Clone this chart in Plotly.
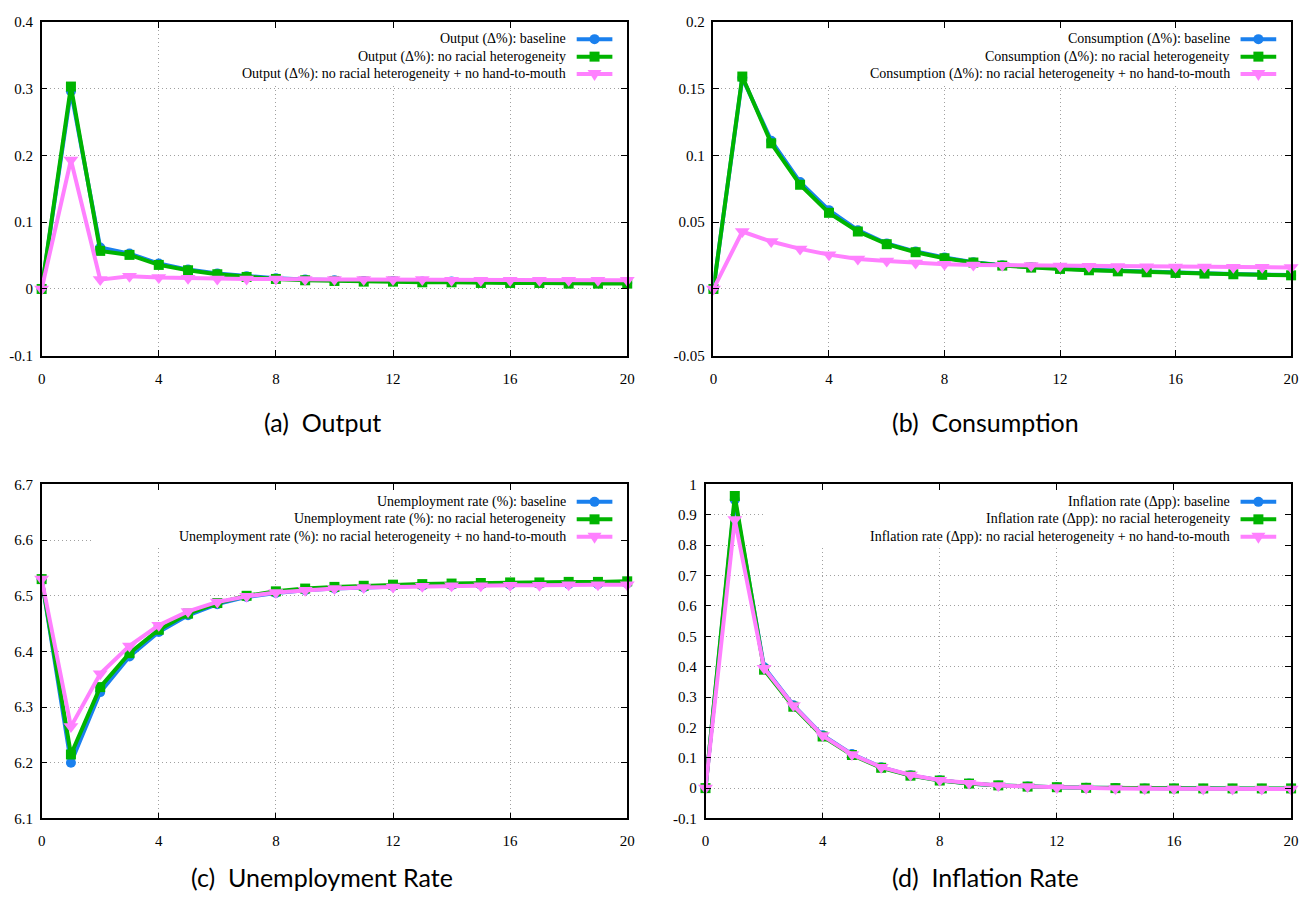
import plotly.graph_objects as go

# ---------------- data ----------------
periods = list(range(21))

output_baseline = [0, 0.296, 0.062, 0.053, 0.038, 0.029, 0.023, 0.019, 0.016, 0.014, 0.013,
                   0.012, 0.012, 0.011, 0.011, 0.010, 0.010, 0.010, 0.009, 0.009, 0.009]
output_no_race = [0, 0.303, 0.057, 0.051, 0.036, 0.028, 0.022, 0.018, 0.015, 0.013, 0.012,
                  0.011, 0.011, 0.010, 0.010, 0.009, 0.009, 0.009, 0.008, 0.008, 0.008]
output_no_race_no_htm = [0, 0.193, 0.014, 0.019, 0.017, 0.016, 0.015, 0.015, 0.015, 0.014, 0.014,
                         0.014, 0.014, 0.014, 0.013, 0.013, 0.013, 0.013, 0.013, 0.013, 0.013]

cons_baseline = [0, 0.158, 0.111, 0.080, 0.059, 0.044, 0.034, 0.028, 0.0235, 0.020, 0.0178,
                 0.0163, 0.0153, 0.0143, 0.0135, 0.0128, 0.0122, 0.0117, 0.0112, 0.0108, 0.0104]
cons_no_race = [0, 0.159, 0.109, 0.078, 0.057, 0.043, 0.0335, 0.0275, 0.023, 0.0198, 0.0175,
                0.016, 0.015, 0.014, 0.0132, 0.0125, 0.012, 0.0115, 0.011, 0.0106, 0.0102]
cons_no_race_no_htm = [0, 0.043, 0.0355, 0.030, 0.0257, 0.0225, 0.021, 0.0195, 0.0185, 0.018, 0.0178,
                       0.0175, 0.0172, 0.017, 0.0168, 0.0166, 0.0165, 0.0164, 0.0163, 0.0162, 0.0161]

unemp_baseline = [6.53, 6.200, 6.327, 6.391, 6.435, 6.465, 6.485, 6.498, 6.505, 6.510, 6.513,
                  6.515, 6.517, 6.518, 6.519, 6.520, 6.520, 6.521, 6.521, 6.521, 6.522]
unemp_no_race = [6.53, 6.215, 6.336, 6.397, 6.439, 6.468, 6.487, 6.500, 6.508, 6.513, 6.516,
                 6.518, 6.520, 6.521, 6.522, 6.523, 6.524, 6.524, 6.525, 6.525, 6.526]
unemp_no_race_no_htm = [6.53, 6.265, 6.360, 6.410, 6.447, 6.472, 6.489, 6.499, 6.506, 6.510, 6.513,
                        6.515, 6.516, 6.517, 6.518, 6.518, 6.519, 6.519, 6.520, 6.520, 6.520]

infl_baseline = [0, 0.950, 0.398, 0.273, 0.174, 0.112, 0.069, 0.042, 0.026, 0.015, 0.009,
                 0.005, 0.003, 0.001, 0.0, -0.001, -0.001, -0.002, -0.002, -0.002, -0.002]
infl_no_race = [0, 0.962, 0.390, 0.268, 0.170, 0.109, 0.067, 0.041, 0.025, 0.015, 0.009,
                0.005, 0.003, 0.001, 0.0, -0.001, -0.001, -0.001, -0.001, -0.001, -0.001]
infl_no_race_no_htm = [0, 0.885, 0.395, 0.272, 0.173, 0.111, 0.069, 0.043, 0.026, 0.016, 0.009,
                       0.005, 0.002, 0.0, -0.001, -0.002, -0.002, -0.003, -0.003, -0.003, -0.003]

scenario_suffixes = ["baseline", "no racial heterogeneity",
                     "no racial heterogeneity + no hand-to-mouth"]
variable_names = ["Output (Δ%)", "Consumption (Δ%)", "Unemployment rate (%)", "Inflation rate (Δpp)"]
captions = ["(a)\u00a0\u00a0Output", "(b)\u00a0\u00a0Consumption",
            "(c)\u00a0\u00a0Unemployment Rate", "(d)\u00a0\u00a0Inflation Rate"]

x_tick_vals = [0, 4, 8, 12, 16, 20]
x_tick_text = ["0", "4", "8", "12", "16", "20"]

y_tick_vals_a = [-0.1, 0, 0.1, 0.2, 0.3, 0.4]
y_tick_text_a = ["-0.1", "0", "0.1", "0.2", "0.3", "0.4"]
y_tick_vals_b = [-0.05, 0, 0.05, 0.1, 0.15, 0.2]
y_tick_text_b = ["-0.05", "0", "0.05", "0.1", "0.15", "0.2"]
y_tick_vals_c = [6.1, 6.2, 6.3, 6.4, 6.5, 6.6, 6.7]
y_tick_text_c = ["6.1", "6.2", "6.3", "6.4", "6.5", "6.6", "6.7"]
y_tick_vals_d = [-0.1, 0, 0.1, 0.2, 0.3, 0.4, 0.5, 0.6, 0.7, 0.8, 0.9, 1]
y_tick_text_d = ["-0.1", "0", "0.1", "0.2", "0.3", "0.4", "0.5", "0.6", "0.7", "0.8", "0.9", "1"]

# ---------------- style / layout ----------------
W, H = 1309, 909
colors = ["#1a80ee", "#00b400", "#ff80ff"]
symbols = ["circle", "square", "triangle-down"]
msizes = [10, 10, 13]
serif = "Liberation Serif, Times New Roman, serif"
caption_font = "Lato, Open Sans, sans-serif"

# panel pixel boxes: (left, right, top, bottom)
boxes = [(38, 629, 14, 354), (716, 1299, 14, 354), (38, 629, 485, 825), (708, 1299, 485, 825)]
# legend box left edge (pixels)
legend_left_px = [158, 789, 90, 766]
caption_pos = [(321, 421), (991, 421), (321, 885), (991, 885)]

series = [
    (output_baseline, output_no_race, output_no_race_no_htm, y_tick_vals_a, y_tick_text_a),
    (cons_baseline, cons_no_race, cons_no_race_no_htm, y_tick_vals_b, y_tick_text_b),
    (unemp_baseline, unemp_no_race, unemp_no_race_no_htm, y_tick_vals_c, y_tick_text_c),
    (infl_baseline, infl_no_race, infl_no_race_no_htm, y_tick_vals_d, y_tick_text_d),
]

fig = go.Figure()
layout = dict(width=W, height=H, margin=dict(l=0, r=0, t=0, b=0),
              paper_bgcolor="white", plot_bgcolor="white", showlegend=False,
              shapes=[], annotations=[])

for p, (s1, s2, s3, yv, yt) in enumerate(series):
    sfx = "" if p == 0 else str(p + 1)
    xa, ya = "x" + sfx, "y" + sfx
    L, R, T, B = boxes[p]
    pw, ph = R - L, B - T
    for k, vals in enumerate([s1, s2, s3]):
        fig.add_trace(go.Scatter(
            x=periods, y=vals, mode="lines+markers", xaxis=xa, yaxis=ya,
            name=f"{variable_names[p]}: {scenario_suffixes[k]}",
            line=dict(color=colors[k], width=4),
            marker=dict(symbol=symbols[k], size=msizes[k], color=colors[k], line=dict(width=0)),
            cliponaxis=False))
    axis_common = dict(showline=True, linecolor="black", linewidth=1.5, mirror="ticks",
                       ticks="inside", ticklen=6, tickwidth=1, tickcolor="black",
                       showgrid=True, gridcolor="#a0a0a0", griddash="1px,3px", gridwidth=1,
                       zeroline=False, tickfont=dict(family=serif, size=15, color="black"))
    layout["xaxis" + sfx] = dict(axis_common, domain=[L / W, R / W], anchor=ya,
                                 range=[0, 20], tickvals=x_tick_vals, ticktext=x_tick_text,
                                 ticklabelstandoff=8)
    layout["yaxis" + sfx] = dict(axis_common, domain=[1 - B / H, 1 - T / H], anchor=xa,
                                 range=[yv[0], yv[-1]], tickvals=yv, ticktext=yt,
                                 ticklabelstandoff=4)
    xd, yd = xa + " domain", ya + " domain"
    # legend white box
    layout["shapes"].append(dict(type="rect", xref=xd, yref=yd, layer="above",
                                 x0=(legend_left_px[p] - L) / pw, x1=1 - 8 / pw,
                                 y0=1 - 64 / ph, y1=1 - 7 / ph,
                                 fillcolor="white", line=dict(width=0)))
    row_px = [17.7, 35.5, 53.3]
    for k in range(3):
        yy = 1 - row_px[k] / ph
        layout["annotations"].append(dict(
            xref=xd, yref=yd, x=1 - 60 / pw, y=yy, xanchor="right", yanchor="middle",
            text=f"{variable_names[p]}: {scenario_suffixes[k]}", showarrow=False,
            font=dict(family=serif, size=14, color="black")))
        layout["shapes"].append(dict(type="line", xref=xd, yref=yd, layer="above",
                                     x0=1 - 51 / pw, x1=1 - 15 / pw, y0=yy, y1=yy,
                                     line=dict(color=colors[k], width=4)))
        mk = dict(xref=xd, yref=yd, layer="above", xsizemode="pixel", ysizemode="pixel",
                  xanchor=1 - 33 / pw, yanchor=yy, fillcolor=colors[k], line=dict(width=0))
        if k == 0:
            layout["shapes"].append(dict(mk, type="circle", x0=-5, x1=5, y0=-5, y1=5))
        elif k == 1:
            layout["shapes"].append(dict(mk, type="rect", x0=-5, x1=5, y0=-5, y1=5))
        else:
            layout["shapes"].append(dict(mk, type="path", path="M -7,4 L 7,4 L 0,-7 Z"))
    cx, cy = caption_pos[p]
    layout["annotations"].append(dict(
        xref="paper", yref="paper", x=cx / W, y=1 - cy / H, xanchor="center", yanchor="middle",
        text=captions[p], showarrow=False,
        font=dict(family=caption_font, size=25, color="black")))

fig.update_layout(**layout)
fig.write_html("out.html", config={"displayModeBar": False},
               post_script="document.body.style.margin='0';document.body.style.overflow='hidden';")
